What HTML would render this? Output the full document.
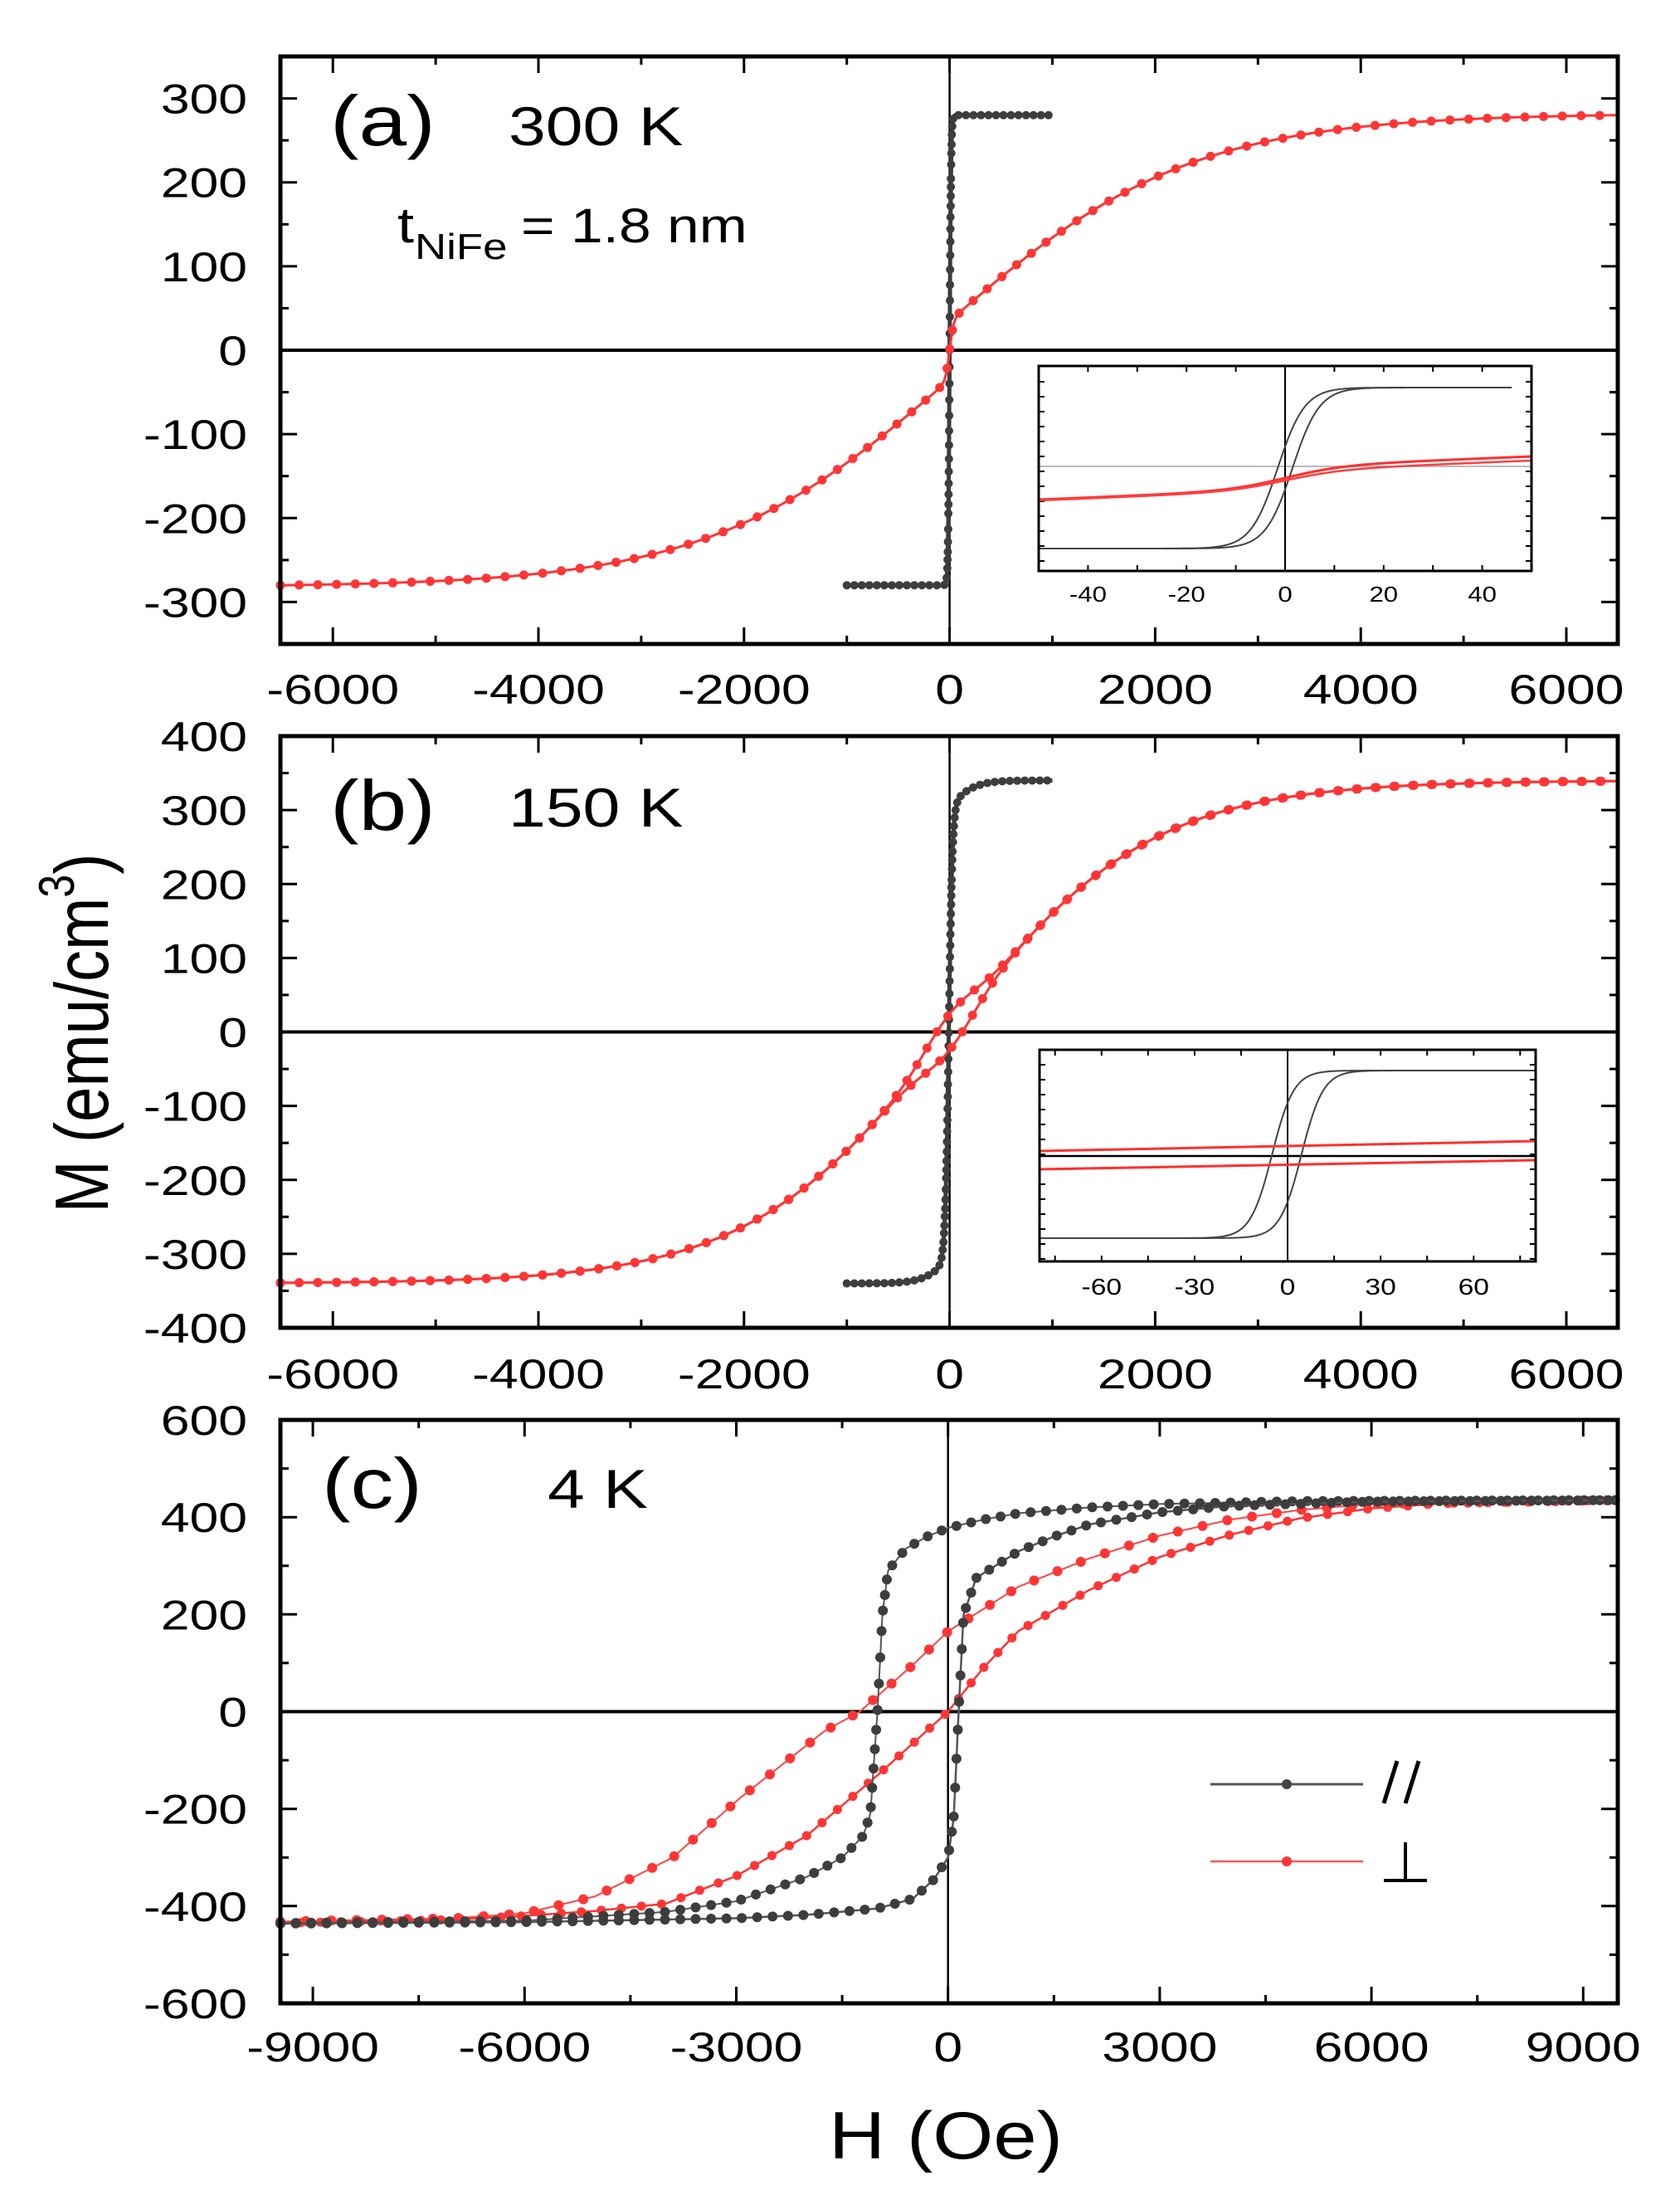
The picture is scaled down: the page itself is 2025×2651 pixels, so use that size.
<!DOCTYPE html>
<html><head><meta charset="utf-8">
<style>
html,body{margin:0;padding:0;background:#fff;}
svg{display:block;}
text{font-family:"Liberation Sans",Arial,sans-serif;fill:#000;}
</style></head>
<body>
<svg id="s" width="2025" height="2651" viewBox="0 0 2025 2651" xmlns="http://www.w3.org/2000/svg">
<rect width="2025" height="2651" fill="#fff"/>
<g id="g"></g>
<text transform="translate(398,175) scale(1.22,1)" font-size="85">(a)</text>
<text transform="translate(613,175) scale(1.22,1)" font-size="66">300 K</text>
<text transform="translate(479,292) scale(1.2,1)" font-size="60">t</text>
<text transform="translate(500,312) scale(1.2,1)" font-size="44">NiFe</text>
<text transform="translate(628,292) scale(1.2,1)" font-size="58">= 1.8 nm</text>
<text transform="translate(398,1000) scale(1.22,1)" font-size="85">(b)</text>
<text transform="translate(613,996) scale(1.22,1)" font-size="66">150 K</text>
<text transform="translate(388,1817) scale(1.22,1)" font-size="85">(c)</text>
<text transform="translate(660,1817) scale(1.22,1)" font-size="66">4 K</text>
<text transform="translate(130,1245) rotate(-90) scale(1,1.2)" font-size="76" text-anchor="middle">M (emu/cm<tspan font-size="50" dy="-34">3</tspan><tspan dy="34">)</tspan></text>
<text transform="translate(1140,2601) scale(1.16,1)" font-size="81" text-anchor="middle">H (Oe)</text>
<line x1="1459" y1="2150" x2="1643" y2="2150" stroke="#555" stroke-width="3"/>
<circle cx="1551" cy="2150" r="6" fill="#444"/>
<line x1="1459" y1="2243" x2="1643" y2="2243" stroke="#ff5555" stroke-width="2.5"/>
<circle cx="1551" cy="2243" r="6" fill="#ff3333"/>
<line x1="1684" y1="2122" x2="1668" y2="2173" stroke="#000" stroke-width="5"/>
<line x1="1710" y1="2122" x2="1694" y2="2173" stroke="#000" stroke-width="5"/>
<line x1="1694" y1="2220" x2="1694" y2="2267" stroke="#000" stroke-width="4"/>
<line x1="1668" y1="2266" x2="1720" y2="2266" stroke="#000" stroke-width="4"/>
</svg>
<script>
var out=[];
function T(x,y,s,fs,anch,sx){out.push('<text transform="translate('+x.toFixed(1)+','+y.toFixed(1)+') scale('+(sx||1.25)+',1)" font-size="'+fs+'" text-anchor="'+(anch||'middle')+'">'+s+'</text>');}
function L(x1,y1,x2,y2,c,w){out.push('<line x1="'+x1.toFixed(1)+'" y1="'+y1.toFixed(1)+'" x2="'+x2.toFixed(1)+'" y2="'+y2.toFixed(1)+'" stroke="'+c+'" stroke-width="'+w+'"/>');}
function interp(tab,h){ if(h<=tab[0][0])return tab[0][1]; for(var i=1;i<tab.length;i++){if(h<=tab[i][0]){var a=tab[i-1],b=tab[i];return a[1]+(b[1]-a[1])*(h-a[0])/(b[0]-a[0]);}} return tab[tab.length-1][1];}
function series(P,f,h0,h1,col,lw,r,sp,lineCol){
  var pts=[],n=2000;
  for(var i=0;i<=n;i++){var h=h0+(h1-h0)*i/n;pts.push([P.X(h),P.Y(f(h))]);}
  var d='M'+pts.map(function(p){return p[0].toFixed(1)+','+p[1].toFixed(1);}).join('L');
  out.push('<path d="'+d+'" fill="none" stroke="'+(lineCol||col)+'" stroke-width="'+lw+'"/>');
  if(r>0){var acc=sp;for(var i=0;i<pts.length;i++){if(i>0){acc+=Math.hypot(pts[i][0]-pts[i-1][0],pts[i][1]-pts[i-1][1]);}
    if(acc>=sp){acc=0;out.push('<circle cx="'+pts[i][0].toFixed(1)+'" cy="'+pts[i][1].toFixed(1)+'" r="'+r+'" fill="'+col+'"/>');}}}
}
function panel(c){
  var P={X:function(h){return c.x0+(h-c.xmin)/(c.xmax-c.xmin)*(c.x1-c.x0);},Y:function(m){return c.y1-(m-c.ymin)/(c.ymax-c.ymin)*(c.y1-c.y0);}};
  L(c.x0,P.Y(0),c.x1,P.Y(0),'#000',c.zw||4);
  L(P.X(0),c.y0,P.X(0),c.y1,'#000',c.vw||2.5);
  var tl=c.tl||20;
  for(var v=Math.ceil(c.xmin/c.xm)*c.xm;v<=c.xmax;v+=c.xm){
    var maj=Math.abs(Math.round(v/c.xM)*c.xM-v)<1e-6, len=maj?tl:tl/2, x=P.X(v);
    L(x,c.y0,x,c.y0+len,'#000',c.tw||3);L(x,c.y1,x,c.y1-len,'#000',c.tw||3);
    if(maj&&c.xlab)T(x,c.xly,(v<0?'-':'')+Math.abs(v),c.fs,'middle',c.sx);
  }
  for(var v=Math.ceil(c.ymin/c.ym)*c.ym;v<=c.ymax+1e-9;v+=c.ym){
    var maj=Math.abs(Math.round(v/c.yM)*c.yM-v)<1e-6, len=maj?tl:tl/2, y=P.Y(v);
    L(c.x0,y,c.x0+len,y,'#000',c.tw||3);L(c.x1,y,c.x1-len,y,'#000',c.tw||3);
    if(maj&&c.ylab)T(298,y+18,(v<0?'-':'')+Math.abs(v),c.fs,'end',1.25);
  }
  return P;
}
function frame(c,w){out.push('<rect x="'+c.x0+'" y="'+c.y0+'" width="'+(c.x1-c.x0)+'" height="'+(c.y1-c.y0)+'" fill="none" stroke="#000" stroke-width="'+w+'"/>');}
var th=Math.tanh, BK='#3d3d3d', RD='#ff3535';

var ca={x0:338,x1:1950,y0:68,y1:776,xmin:-6510,xmax:6500,ymin:-350,ymax:350,xm:1000,xM:2000,ym:50,yM:100,xlab:1,ylab:1,xly:848,fs:50};
var Pa=panel(ca);
series(Pa,function(h){return 280*th(h/14);},-1000,1000,BK,5,5,9);
series(Pa,function(h){return 35*th(h/40)+247*th(h/2350);},-6510,6500,RD,3,5.5,22);
out.push('<rect x="1252" y="441" width="594" height="247" fill="#fff"/>');
var PIa={X:function(h){return 1252+(h+50)/100*594;},Y:function(m){return 564-m*100;}};
L(1252,562,1846,562,'#bbb',2);
L(PIa.X(0),441,PIa.X(0),688,'#000',2);
for(var v=-50;v<=50;v+=10){var x=PIa.X(v);L(x,441,x,448,'#000',2);L(x,688,x,681,'#000',2);}
for(var y=460;y<688;y+=18){L(1252,y,1259,y,'#000',2);L(1846,y,1839,y,'#000',2);}
series(PIa,function(h){return 0.97*th((h+1.5)/5.5);},-50,46,'#444',2,0,0);
series(PIa,function(h){return 0.97*th((h-1.5)/5.5);},-50,46,'#444',2,0,0);
series(PIa,function(h){return -0.12+0.14*th(h/12)+0.12*h/50;},-50,50,'#ff3030',3,0,0);
series(PIa,function(h){return -0.15+0.12*th(h/12)+0.12*h/50;},-50,50,'#ff4040',2.5,0,0);
frame({x0:1252,x1:1846,y0:441,y1:688},3);
[-40,-20,0,20,40].forEach(function(v){T(PIa.X(v),725,(v<0?'-':'')+Math.abs(v),26,'middle',1.2);});
frame(ca,5);

var cb={x0:338,x1:1950,y0:887,y1:1600,xmin:-6510,xmax:6500,ymin:-400,ymax:400,xm:1000,xM:2000,ym:50,yM:100,xlab:1,ylab:1,xly:1673,fs:50};
var Pb=panel(cb);
series(Pb,function(h){return 340*(0.9*th((h+8)/35)+0.1*th(h/250));},-1000,1000,BK,5,5,9);
series(Pb,function(h){var s=140*Math.exp(-Math.pow(h/350,2));return 340*th((h+s)/1950);},-6510,6500,RD,3,5.5,22);
series(Pb,function(h){var s=140*Math.exp(-Math.pow(h/350,2));return 340*th((h-s)/1950);},-6510,6500,RD,3,5.5,22);
out.push('<rect x="1253" y="1265" width="598" height="255" fill="#fff"/>');
var PIb={X:function(h){return 1552+h*598/160;},Y:function(m){return 1391-m*101;}};
L(1253,1393,1851,1393,'#000',2.5);
L(PIb.X(0),1265,PIb.X(0),1520,'#000',2);
for(var v=-75;v<=80;v+=15){var x=PIb.X(v);L(x,1265,x,1272,'#000',2);L(x,1520,x,1513,'#000',2);}
for(var y=1283;y<1520;y+=18){L(1253,y,1260,y,'#000',2);L(1851,y,1844,y,'#000',2);}
series(PIb,function(h){return th((h+5)/7);},-80,80,'#444',2,0,0);
series(PIb,function(h){return th((h-4.5)/7);},-80,80,'#444',2,0,0);
L(1253,1387,1851,1375,'#ff3030',3);
L(1253,1409,1851,1398,'#ff3030',3);
frame({x0:1253,x1:1851,y0:1265,y1:1520},3);
[-60,-30,0,30,60].forEach(function(v){T(PIb.X(v),1560,(v<0?'-':'')+Math.abs(v),28,'middle',1.2);});
frame(cb,5);

var cc={x0:338,x1:1950,y0:1711,y1:2414,xmin:-9460,xmax:9490,ymin:-600,ymax:600,xm:1500,xM:3000,ym:100,yM:200,xlab:1,ylab:1,xly:2484,fs:50};
var Pc=panel(cc);
var bDesc=[[-9500,-435],[-6000,-430],[-4000,-412],[-3000,-390],[-2000,-340],[-1500,-300],[-1200,-255],[-1100,-210],[-1000,0],[-930,200],[-850,290],[-600,335],[-300,360],[0,378],[500,395],[1000,408],[2000,420],[3000,427],[5000,433],[9500,435]];
var bAsc=[[-9500,-436],[-6000,-433],[-3000,-425],[-2000,-418],[-1000,-405],[-500,-385],[-200,-345],[0,-300],[80,-220],[150,0],[220,200],[400,275],[1000,330],[1500,360],[2000,385],[3000,410],[4000,423],[6000,432],[9500,435]];
var rDesc=[[-9500,-432],[-7000,-425],[-6000,-415],[-5000,-380],[-3900,-300],[-2950,-178],[-1750,-40],[-1250,0],[-500,96],[0,165],[1000,257],[2000,315],[3000,362],[4000,395],[5000,415],[6000,427],[9500,435]];
var rAsc=[[-9500,-435],[-7000,-428],[-6000,-420],[-5000,-410],[-4000,-395],[-3000,-338],[-2000,-255],[-1000,-131],[0,0],[500,90],[1000,166],[2000,250],[3000,318],[4000,364],[5000,398],[6000,418],[7000,428],[9500,435]];
function tf(t){return function(h){return interp(t,h);};}
series(Pc,tf(rDesc),-9460,9490,RD,2,6,30,'#ff4444');
series(Pc,tf(rAsc),-9460,9490,RD,2.5,5.5,24);
series(Pc,tf(bDesc),-9460,9490,BK,2,6,18,'#555');
series(Pc,tf(bAsc),-9460,9490,BK,2.5,6,18,'#555');
frame(cc,5);

document.getElementById('g').innerHTML=out.join('');
</script>
</body></html>
